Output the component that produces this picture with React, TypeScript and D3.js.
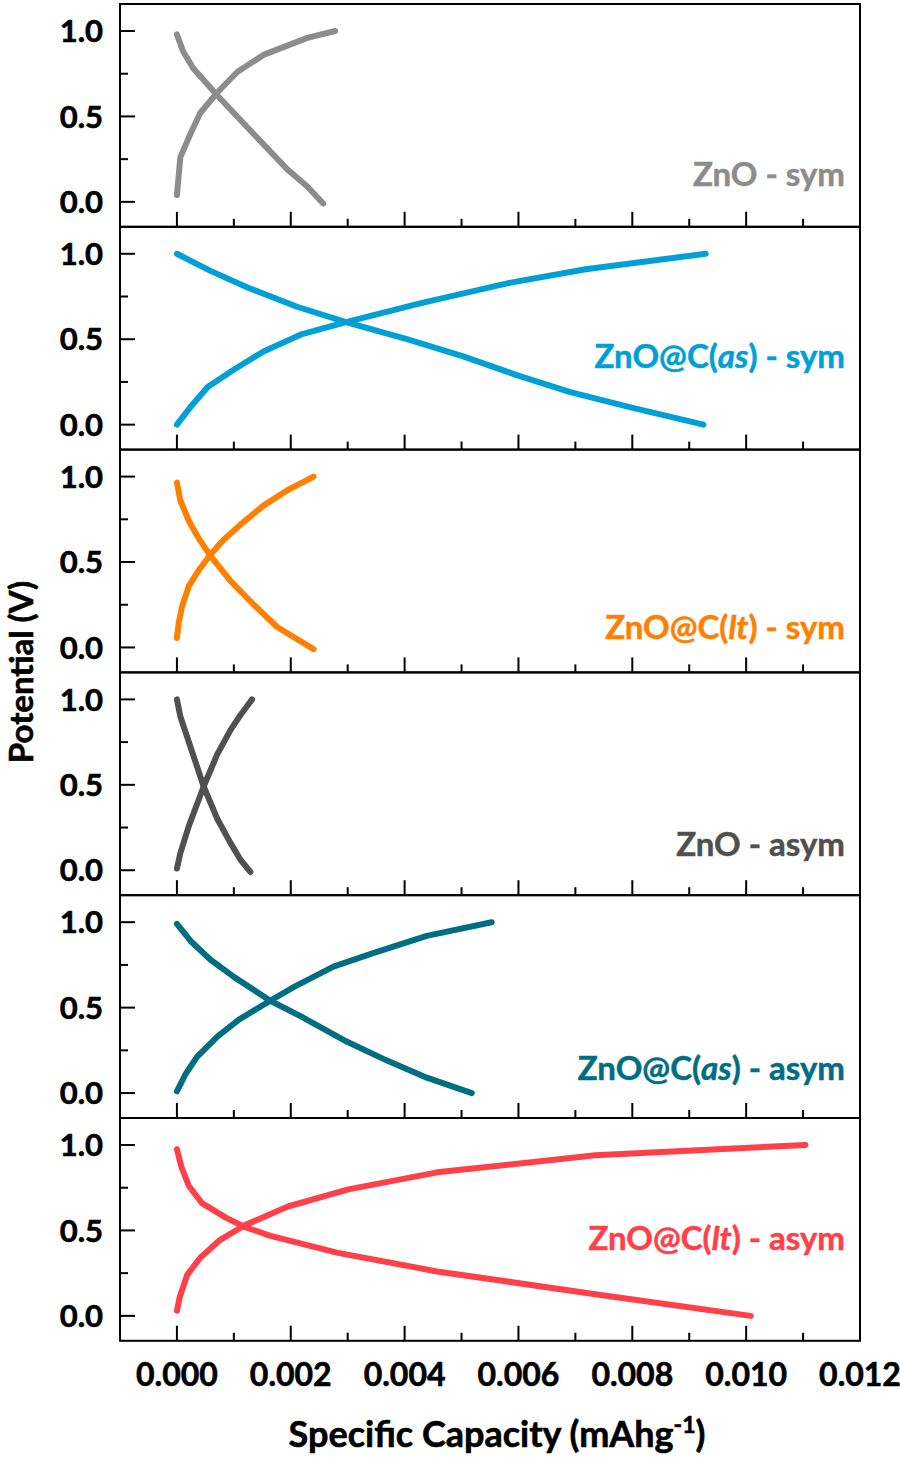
import React from 'react'
import * as d3 from 'd3'

// capacity in mAh g^-1, potential in V
const znoSymChargeCap = [0, 0.00006, 0.00024, 0.00041, 0.00071, 0.00106, 0.00152, 0.00229, 0.00278]
const znoSymChargeV = [0.04, 0.26, 0.40, 0.52, 0.64, 0.76, 0.86, 0.96, 1.0]
const znoSymDischCap = [0, 0.00011, 0.00029, 0.00069, 0.00134, 0.00194, 0.00229, 0.00257]
const znoSymDischV = [0.98, 0.88, 0.78, 0.63, 0.40, 0.19, 0.09, -0.01]

const asSymChargeCap = [0, 0.00023, 0.00054, 0.00099, 0.00153, 0.0022, 0.00297, 0.00427, 0.00584, 0.00718, 0.00929]
const asSymChargeV = [0.0, 0.10, 0.22, 0.32, 0.43, 0.53, 0.60, 0.71, 0.83, 0.91, 1.0]
const asSymDischCap = [0, 0.00059, 0.00126, 0.00211, 0.00297, 0.00404, 0.00503, 0.00597, 0.00691, 0.00799, 0.00925]
const asSymDischV = [1.0, 0.90, 0.80, 0.69, 0.60, 0.50, 0.40, 0.29, 0.19, 0.10, 0.0]

const ltSymChargeCap = [0, 0.00003, 0.00009, 0.00021, 0.00038, 0.00058, 0.00082, 0.00112, 0.00152, 0.00194, 0.0024]
const ltSymChargeV = [0.055, 0.14, 0.24, 0.36, 0.45, 0.54, 0.63, 0.72, 0.83, 0.92, 1.0]
const ltSymDischCap = [0, 0.00006, 0.00021, 0.00038, 0.00058, 0.00094, 0.00135, 0.00176, 0.0024]
const ltSymDischV = [0.965, 0.86, 0.74, 0.64, 0.54, 0.39, 0.25, 0.12, -0.01]

const znoAsymChargeCap = [0, 0.00006, 0.00021, 0.00047, 0.00071, 0.00094, 0.00112, 0.00132]
const znoAsymChargeV = [0.01, 0.10, 0.26, 0.49, 0.68, 0.82, 0.91, 1.0]
const znoAsymDischCap = [0, 0.00006, 0.00024, 0.00047, 0.00071, 0.00094, 0.00112, 0.00129]
const znoAsymDischV = [1.0, 0.90, 0.72, 0.49, 0.30, 0.16, 0.06, -0.01]

const asAsymChargeCap = [0, 0.00015, 0.00035, 0.00071, 0.00109, 0.00164, 0.00205, 0.00275, 0.00346, 0.00439, 0.00553]
const asAsymChargeV = [0.01, 0.11, 0.21, 0.33, 0.43, 0.54, 0.62, 0.74, 0.82, 0.92, 1.0]
const asAsymDischCap = [0, 0.00024, 0.00059, 0.001, 0.00164, 0.00217, 0.00299, 0.00369, 0.00439, 0.00518]
const asAsymDischV = [0.99, 0.89, 0.78, 0.68, 0.54, 0.45, 0.30, 0.19, 0.09, 0.0]

const ltAsymChargeCap = [0, 0.00005, 0.00018, 0.00041, 0.00074, 0.00119, 0.00195, 0.00301, 0.00457, 0.00735, 0.01104]
const ltAsymChargeV = [0.03, 0.11, 0.24, 0.34, 0.44, 0.53, 0.64, 0.74, 0.84, 0.94, 1.0]
const ltAsymDischCap = [0, 0.00008, 0.00021, 0.00044, 0.00086, 0.00119, 0.00163, 0.00281, 0.00457, 0.00735, 0.01008]
const ltAsymDischV = [0.975, 0.87, 0.76, 0.66, 0.575, 0.52, 0.47, 0.37, 0.26, 0.127, 0.0]

const panelNames = ['ZnO', 'ZnO@C(as)', 'ZnO@C(lt)', 'ZnO', 'ZnO@C(as)', 'ZnO@C(lt)']
const panelModes = ['sym', 'sym', 'sym', 'asym', 'asym', 'asym']
const panelColors = ['#8c8c8c', '#00a0d6', '#ff8000', '#505050', '#006e82', '#ff4048']

const chargeCaps = [znoSymChargeCap, asSymChargeCap, ltSymChargeCap, znoAsymChargeCap, asAsymChargeCap, ltAsymChargeCap]
const chargeVs = [znoSymChargeV, asSymChargeV, ltSymChargeV, znoAsymChargeV, asAsymChargeV, ltAsymChargeV]
const dischCaps = [znoSymDischCap, asSymDischCap, ltSymDischCap, znoAsymDischCap, asAsymDischCap, ltAsymDischCap]
const dischVs = [znoSymDischV, asSymDischV, ltSymDischV, znoAsymDischV, asAsymDischV, ltAsymDischV]

const xTicks = [0, 0.001, 0.002, 0.003, 0.004, 0.005, 0.006, 0.007, 0.008, 0.009, 0.01, 0.011]
const xTickLabels = ['0.000', '0.002', '0.004', '0.006', '0.008', '0.010', '0.012']
const yTicks = [0, 0.25, 0.5, 0.75, 1.0]
const yTickLabels = ['0.0', '0.5', '1.0']

const WIDTH = 900
const HEIGHT = 1464
const LEFT = 120
const RIGHT = 860
const TOP = 4
const PANEL_H = 222.8
// label baseline offsets from each panel's top
const LABEL_DY = [182, 141, 189, 184, 185, 132]
const FONT = 'Lato, "Open Sans", sans-serif'

function PanelLabel({ name, mode }: { name: string; mode: string }) {
  const m = name.match(/^(.*\()(\w+)(\))$/)
  if (!m) return <>{`${name} - ${mode}`}</>
  return (
    <>
      {m[1]}
      <tspan fontStyle="italic">{m[2]}</tspan>
      {`${m[3]} - ${mode}`}
    </>
  )
}

export default function App() {
  const x = d3.scaleLinear().domain([-0.001, 0.012]).range([LEFT, RIGHT])
  const bottom = TOP + PANEL_H * 6

  return (
    <svg
      width={WIDTH}
      height={HEIGHT}
      style={{ position: 'absolute', left: 0, top: 0, display: 'block', background: '#fff' }}
      fontFamily={FONT}
      fontWeight="bold"
    >
      {panelNames.map((name, i) => {
        const top = TOP + i * PANEL_H
        const y = d3.scaleLinear().domain([-0.146, 1.158]).range([top + PANEL_H, top])
        const line = d3
          .line<[number, number]>()
          .x(d => x(d[0]))
          .y(d => y(d[1]))
        const charge = chargeCaps[i].map((c, k) => [c, chargeVs[i][k]] as [number, number])
        const disch = dischCaps[i].map((c, k) => [c, dischVs[i][k]] as [number, number])
        const color = panelColors[i]
        return (
          <g key={i}>
            <rect x={LEFT} y={top} width={RIGHT - LEFT} height={PANEL_H} fill="none" stroke="#000" strokeWidth={2} />
            {/* x ticks, pointing inward from the panel bottom */}
            {xTicks.map((t, k) => (
              <line
                key={k}
                x1={x(t)}
                x2={x(t)}
                y1={top + PANEL_H}
                y2={top + PANEL_H - (k % 2 === 0 ? 15 : 8)}
                stroke="#000"
                strokeWidth={2}
              />
            ))}
            {/* y ticks */}
            {yTicks.map((t, k) => (
              <line
                key={k}
                x1={LEFT}
                x2={LEFT + (k % 2 === 0 ? 15 : 8)}
                y1={y(t)}
                y2={y(t)}
                stroke="#000"
                strokeWidth={2}
              />
            ))}
            {yTickLabels.map(lbl => (
              <text
                key={lbl}
                x={103}
                y={y(+lbl)}
                dy="0.36em"
                textAnchor="end"
                fontSize={31}
                stroke="#000"
                strokeWidth={0.6}
              >
                {lbl}
              </text>
            ))}
            <path d={line(charge) ?? ''} fill="none" stroke={color} strokeWidth={6} strokeLinecap="round" strokeLinejoin="round" />
            <path d={line(disch) ?? ''} fill="none" stroke={color} strokeWidth={6} strokeLinecap="round" strokeLinejoin="round" />
            <text
              x={845}
              y={top + LABEL_DY[i]}
              textAnchor="end"
              fontSize={33}
              fill={color}
              stroke={color}
              strokeWidth={0.5}
            >
              <PanelLabel name={name} mode={panelModes[i]} />
            </text>
          </g>
        )
      })}

      {xTickLabels.map(lbl => (
        <text
          key={lbl}
          x={x(+lbl)}
          y={bottom + 45}
          textAnchor="middle"
          fontSize={32}
          stroke="#000"
          strokeWidth={0.6}
        >
          {lbl}
        </text>
      ))}

      <text x={497} y={1447} textAnchor="middle" fontSize={36} stroke="#000" strokeWidth={0.6}>
        Specific Capacity (mAhg
        <tspan fontSize={23} dy={-14}>-1</tspan>
        <tspan dy={14}>)</tspan>
      </text>
      <text
        transform="translate(33,672) rotate(-90)"
        textAnchor="middle"
        fontSize={33}
        stroke="#000"
        strokeWidth={0.6}
      >
        Potential (V)
      </text>
    </svg>
  )
}
